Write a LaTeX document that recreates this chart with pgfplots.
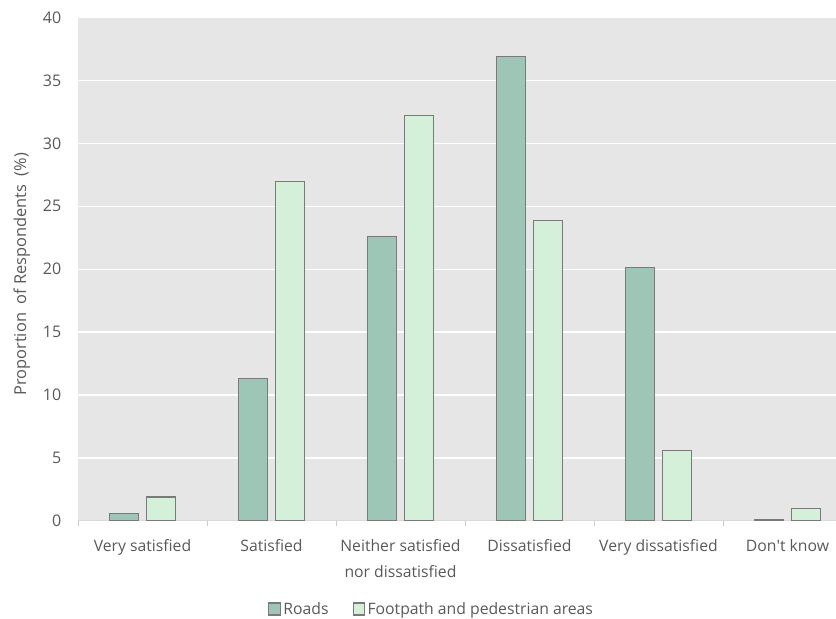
\documentclass[border=0pt]{standalone}
\usepackage{pgfplots}
\pgfplotsset{compat=1.18}
\usepackage{fontspec}
\setmainfont{Open Sans}
\definecolor{roads}{HTML}{9DC6B6}
\definecolor{foot}{HTML}{D5F0D9}
\definecolor{txt}{HTML}{595959}
\definecolor{bg}{HTML}{E6E6E6}
\definecolor{edge}{HTML}{7A7A7A}
\begin{document}
\begin{tikzpicture}
\begin{axis}[name=ax, scale only axis, width=568.5pt, height=377.6pt,
  xmin=-0.5, xmax=5.376, ymin=0, ymax=40,
  ytick={0,5,...,40},
  xtick={0,...,5},
  xticklabels={Very satisfied, Satisfied, {Neither satisfied\\nor dissatisfied}, Dissatisfied, Very dissatisfied, Don\textquotesingle t know},
  minor xtick={-0.5,0.5,...,4.5},
  /pgf/number format/assume math mode=true,
  xticklabel style={align=center, text=txt, font=\fontsize{11.8}{19.5}\selectfont, yshift=-10.5pt},
  yticklabel style={text=txt, font=\fontsize{12}{13}\selectfont, xshift=-9pt},
  major tick length=0pt,
  minor tick length=4pt,
  tick align=outside,
  minor tick style={draw=gray!40},
  axis x line*=bottom, axis y line*=left,
  x axis line style={draw=gray!30, line width=0.8pt},
  y axis line style={draw=none},
  axis background/.style={fill=bg},
  ymajorgrids, major grid style={white, line width=1pt},
  ylabel={Proportion\ \ of Respondents\ \ (\%)},
  ylabel style={at={(axis description cs:-0.074,0.49)}, anchor=center, text=txt, font=\fontsize{12.3}{13}\selectfont},
  legend style={at={(0.467,-0.175)}, anchor=center, draw=none, fill=none, legend columns=2,
    font=\fontsize{11.8}{13}\selectfont, text=txt,
    /tikz/every even column/.append style={column sep=16pt}},
  legend image code/.code={\draw[#1] (0pt,-4.5pt) rectangle (8.5pt,4.5pt);},
]
\addplot[ybar, bar width=0.225, bar shift=-0.143, fill=roads, draw=edge, line width=0.8pt]
  coordinates {(0,0.6) (1,11.3) (2,22.6) (3,36.9) (4,20.1) (5,0.15)};
\addlegendentry{Roads}
\addplot[ybar, bar width=0.225, bar shift=0.143, fill=foot, draw=edge, line width=0.8pt]
  coordinates {(0,1.9) (1,27.0) (2,32.2) (3,23.9) (4,5.6) (5,1.0)};
\addlegendentry{Footpath and pedestrian areas}
\end{axis}
\pgfresetboundingbox
\path ([shift={(-58.5pt,-73.5pt)}]ax.south west) rectangle ([shift={(0pt,13.1pt)}]ax.north east);
\end{tikzpicture}
\end{document}
